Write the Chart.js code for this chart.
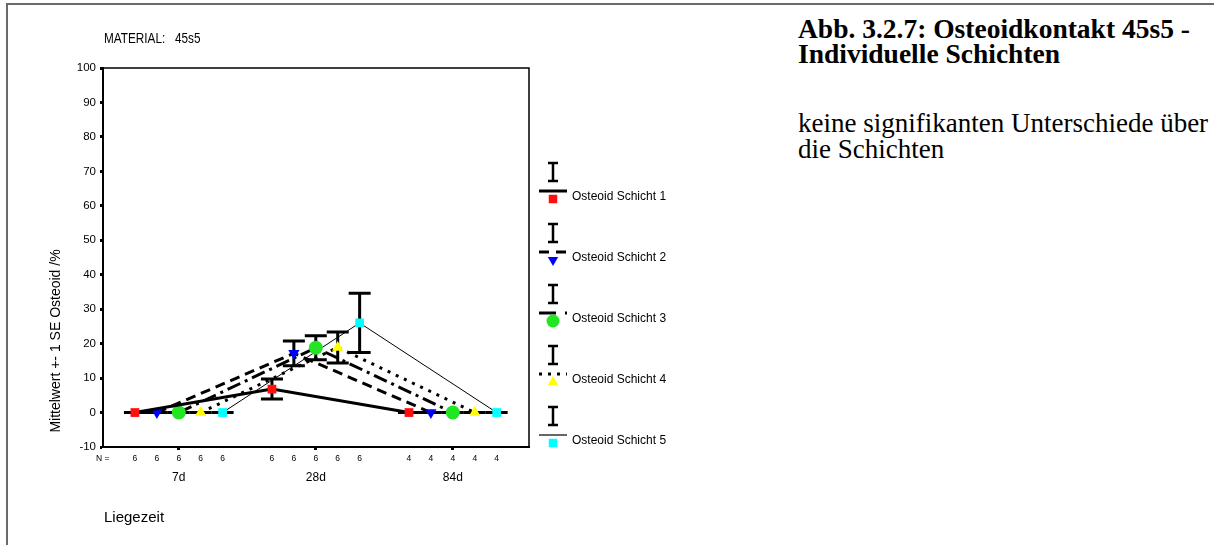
<!DOCTYPE html>
<html>
<head>
<meta charset="utf-8">
<title>Osteoidkontakt 45s5</title>
<script src="https://cdn.jsdelivr.net/npm/chart.js@4/dist/chart.umd.min.js"></script>
<style>
  html, body { margin: 0; padding: 0; background: #fff; width: 1214px; height: 545px; overflow: hidden; }
  #frame { position: absolute; left: 6px; top: 3px; right: 0; bottom: 0;
           border-left: 2px solid #6a6a6a; border-top: 2px solid #6a6a6a; }
  #chart { position: absolute; left: 0; top: 0; }
  .caption { position: absolute; left: 798px; color: #000; white-space: nowrap;
             font-family: "Liberation Serif", "Times New Roman", serif; }
  #title { top: 15.5px; font-weight: bold; font-size: 27.5px; line-height: 25px; }
  #note  { top: 109.6px; font-size: 27px; line-height: 26px; }
</style>
</head>
<body>
<div id="frame"></div>
<canvas id="chart" width="740" height="545"></canvas>
<div class="caption" id="title">Abb. 3.2.7: Osteoidkontakt 45s5 -<br>Individuelle Schichten</div>
<div class="caption" id="note">keine signifikanten Unterschiede über<br>die Schichten</div>

<script>
// Liegezeit groups and number of cases per group
const categories = ['7d', '28d', '84d'];
const caseCounts = [6, 6, 4];

const seriesNames = ['Osteoid Schicht 1', 'Osteoid Schicht 2', 'Osteoid Schicht 3',
                     'Osteoid Schicht 4', 'Osteoid Schicht 5'];

// mean osteoid contact (%) and standard error per layer
const schicht1Mean = [0, 6.8, 0];
const schicht1SE   = [0, 2.9, 0];
const schicht2Mean = [0, 17.2, 0];
const schicht2SE   = [0, 3.6, 0];
const schicht3Mean = [0, 18.8, 0];
const schicht3SE   = [0, 3.5, 0];
const schicht4Mean = [0, 18.9, 0];
const schicht4SE   = [0, 4.5, 0];
const schicht5Mean = [0, 26.0, 0];
const schicht5SE   = [0, 8.6, 0];

const yTicks = [-10, 0, 10, 20, 30, 40, 50, 60, 70, 80, 90, 100];

const means = [schicht1Mean, schicht2Mean, schicht3Mean, schicht4Mean, schicht5Mean];
const errors = [schicht1SE, schicht2SE, schicht3SE, schicht4SE, schicht5SE];

// horizontal dodge of the five layers inside each group
const dodge = [-0.32, -0.16, 0, 0.16, 0.32];

const SANS = '"Liberation Sans", Arial, sans-serif';

const styles = [
  { color: '#ff1010', point: 'rect',     radius: 6.2, rotation: 0,   dash: [],            width: 3,   legendDash: [] },
  { color: '#0000ff', point: 'triangle', radius: 6.5, rotation: 180, dash: [10, 6],       width: 3,   legendDash: [10, 7] },
  { color: '#22e622', point: 'circle',   radius: 7,   rotation: 0,   dash: [14, 5, 3, 5], width: 3,   legendDash: [17, 9, 3, 9] },
  { color: '#ffff00', point: 'triangle', radius: 6.5, rotation: 0,   dash: [3, 6],        width: 3,   legendDash: [3, 6] },
  { color: '#00ffff', point: 'rect',     radius: 6.2, rotation: 0,   dash: [],            width: 1,   legendDash: [] }
];

const datasets = seriesNames.map((name, s) => ({
  label: name,
  data: categories.map((c, i) => ({ x: i + 1 + dodge[s], y: means[s][i] })),
  borderColor: '#000',
  borderWidth: styles[s].width,
  borderDash: styles[s].dash,
  borderCapStyle: 'butt',
  pointStyle: styles[s].point,
  pointRadius: styles[s].radius,
  pointRotation: styles[s].rotation,
  pointBackgroundColor: styles[s].color,
  pointBorderColor: styles[s].color,
  pointBorderWidth: 0,
  pointHoverRadius: styles[s].radius,
  tension: 0,
  fill: false
}));

// +- 1 SE whiskers, drawn beneath the lines and markers
const errorBars = {
  id: 'errorBars',
  beforeDatasetsDraw(chart) {
    const { ctx, scales: { x, y } } = chart;
    ctx.save();
    ctx.strokeStyle = '#000';
    ctx.lineWidth = 3;
    ctx.lineCap = 'butt';
    means.forEach((row, s) => {
      row.forEach((m, i) => {
        const px = x.getPixelForValue(i + 1 + dodge[s]);
        const top = y.getPixelForValue(m + errors[s][i]);
        const bot = y.getPixelForValue(m - errors[s][i]);
        ctx.beginPath();
        ctx.moveTo(px, top); ctx.lineTo(px, bot);
        ctx.moveTo(px - 11, top); ctx.lineTo(px + 11, top);
        ctx.moveTo(px - 11, bot); ctx.lineTo(px + 11, bot);
        ctx.stroke();
      });
    });
    ctx.restore();
  }
};

function marker(ctx, st, cx, cy, r) {
  ctx.fillStyle = st.color;
  ctx.beginPath();
  if (st.point === 'rect') {
    const h = r * Math.SQRT1_2;
    ctx.rect(cx - h, cy - h, 2 * h, 2 * h);
  } else if (st.point === 'circle') {
    ctx.arc(cx, cy, r, 0, Math.PI * 2);
  } else {
    const dir = st.rotation === 180 ? 1 : -1;
    const w = r * Math.sqrt(3) / 2;
    ctx.moveTo(cx, cy + dir * r);
    ctx.lineTo(cx - w, cy - dir * r / 2);
    ctx.lineTo(cx + w, cy - dir * r / 2);
    ctx.closePath();
  }
  ctx.fill();
}

// frame, texts, case counts and legend
const decorations = {
  id: 'decorations',
  afterDraw(chart) {
    const { ctx, chartArea: a, scales: { x } } = chart;
    ctx.save();

    // top and right border of the plot frame
    ctx.strokeStyle = '#000';
    ctx.lineWidth = 1.5;
    ctx.beginPath();
    ctx.moveTo(a.left, a.top); ctx.lineTo(a.right, a.top); ctx.lineTo(a.right, a.bottom);
    ctx.stroke();

    ctx.fillStyle = '#000';
    ctx.textBaseline = 'middle';
    ctx.textAlign = 'left';

    // narrow header text
    ctx.save();
    ctx.translate(104, 39.5);
    ctx.scale(0.84, 1);
    ctx.font = '14px ' + SANS;
    ctx.fillText('MATERIAL:   45s5', 0, 0);
    ctx.restore();

    ctx.font = '15px ' + SANS;
    ctx.fillText('Liegezeit', 104, 518);

    // y axis title
    ctx.save();
    ctx.translate(56, 341);
    ctx.rotate(-Math.PI / 2);
    ctx.textAlign = 'center';
    ctx.font = '14px ' + SANS;
    ctx.fillText('Mittelwert +- 1 SE Osteoid /%', 0, 0);
    ctx.restore();

    // N row
    ctx.font = '8.5px ' + SANS;
    ctx.textAlign = 'center';
    ctx.fillText('N =', 102.7, 459);
    categories.forEach((c, i) => {
      dodge.forEach(d => {
        ctx.fillText(String(caseCounts[i]), x.getPixelForValue(i + 1 + d), 459);
      });
    });

    // legend
    const lx = 553;
    seriesNames.forEach((name, s) => {
      const ty = 197 + 61 * s;
      const st = styles[s];
      ctx.strokeStyle = '#000';
      ctx.lineWidth = 2.5;
      ctx.setLineDash([]);
      ctx.beginPath();
      ctx.moveTo(lx, ty - 34); ctx.lineTo(lx, ty - 16);
      ctx.moveTo(lx - 5, ty - 34); ctx.lineTo(lx + 5, ty - 34);
      ctx.moveTo(lx - 5, ty - 16); ctx.lineTo(lx + 5, ty - 16);
      ctx.stroke();

      ctx.lineWidth = s === 4 ? 1.5 : 3;
      ctx.strokeStyle = s === 4 ? '#333' : '#000';
      ctx.setLineDash(st.legendDash);
      ctx.beginPath();
      ctx.moveTo(539, ty - 6); ctx.lineTo(567, ty - 6);
      ctx.stroke();
      ctx.setLineDash([]);

      marker(ctx, st, lx, ty + 2, st.point === 'circle' ? 6.5 : 6);

      ctx.fillStyle = '#000';
      ctx.font = '12px ' + SANS;
      ctx.textAlign = 'left';
      ctx.fillText(name, 572, ty);
    });

    ctx.restore();
  }
};

const axisGrid = { display: true, drawOnChartArea: false, drawTicks: true,
                   tickLength: 3, tickWidth: 3, tickColor: '#000' };
const axisBorder = { display: true, color: '#000', width: 2 };

new Chart(document.getElementById('chart'), {
  type: 'line',
  data: { datasets },
  options: {
    responsive: false,
    animation: false,
    events: [],
    layout: { padding: { left: 0, top: 68, right: 211, bottom: 0 } },
    plugins: { legend: { display: false }, tooltip: { enabled: false } },
    scales: {
      x: {
        type: 'linear', min: 0.447, max: 3.556,
        afterBuildTicks: sc => { sc.ticks = categories.map((c, i) => ({ value: i + 1 })); },
        afterFit: sc => { sc.height = 98; },
        ticks: { callback: v => categories[Math.round(v) - 1], autoSkip: false, maxRotation: 0,
                 font: { family: SANS, size: 12 }, color: '#000', padding: 20 },
        grid: axisGrid,
        border: axisBorder
      },
      y: {
        type: 'linear', min: -10, max: 100,
        afterBuildTicks: sc => { sc.ticks = yTicks.map(v => ({ value: v })); },
        afterFit: sc => { sc.width = 103; },
        ticks: { font: { family: SANS, size: 11.5 }, color: '#000', padding: 4 },
        grid: axisGrid,
        border: axisBorder
      }
    }
  },
  plugins: [errorBars, decorations]
});
</script>
</body>
</html>
